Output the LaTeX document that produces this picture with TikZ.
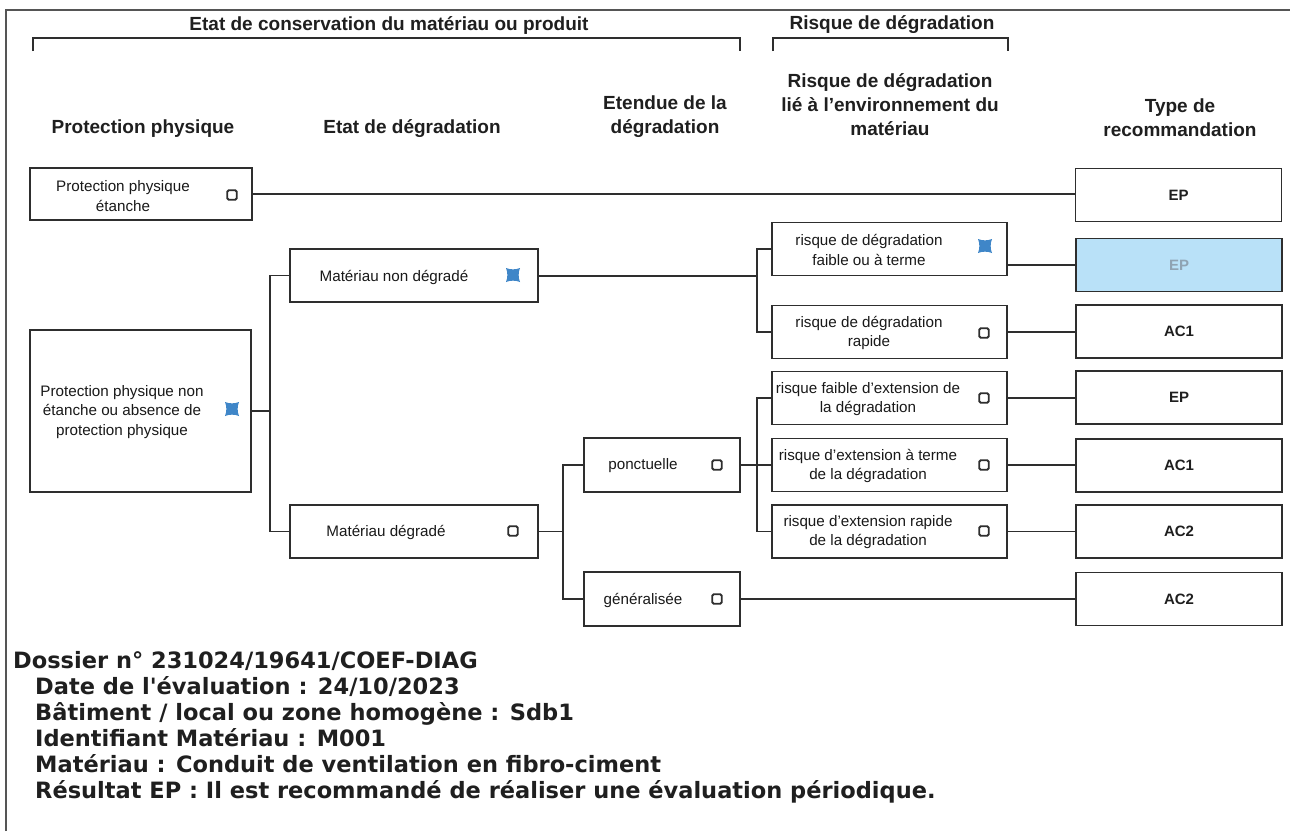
\documentclass[tikz,border=0pt]{standalone}
\usepackage{fontspec}
\setmainfont{Liberation Sans}
\newfontfamily\verd{DejaVu Sans}
\definecolor{ln}{HTML}{2E2E2E}
\definecolor{xblue}{HTML}{3F86C8}
\definecolor{hifill}{HTML}{B9E1F8}
\definecolor{hitext}{HTML}{8FA3B3}
\definecolor{fr}{HTML}{555555}
\tikzset{
  box/.style={draw=ln, line width=1.7pt, rectangle, inner sep=0pt, fill=white},
  bx/.style={box, minimum width=235pt, minimum height=53pt},
  rc/.style={box, minimum width=206pt, minimum height=53pt, font=\fontsize{15}{18}\selectfont\bfseries, text=black!88},
  txt/.style={align=center, inner sep=0pt, font=\fontsize{15.2}{19.5}\selectfont, text=black!90},
  hdr/.style={align=center, inner sep=0pt, font=\fontsize{19}{24}\selectfont\bfseries, text=black!88},
  chk/.style={draw=ln, line width=1.9pt, rounded corners=1.5pt, minimum size=9.5pt, inner sep=0pt},
  conn/.style={draw=ln, line width=1.6pt},
  frame/.style={draw=fr, line width=1.8pt},
  brk/.style={draw=ln, line width=2.2pt},
  foot/.style={anchor=base west, inner sep=0pt, font=\verd\bfseries\fontsize{22.5}{26}\selectfont, text=black!88},
  bluex/.pic={\fill[xblue] (-7,-7) .. controls (-2.5,-5.2) and (2.5,-5.2) .. (7,-7)
      .. controls (5.2,-2.5) and (5.2,2.5) .. (7,7)
      .. controls (2.5,5.2) and (-2.5,5.2) .. (-7,7)
      .. controls (-5.2,2.5) and (-5.2,-2.5) .. (-7,-7) -- cycle;}
}
\begin{document}
\begin{tikzpicture}[x=1pt,y=-1pt]
\useasboundingbox (0,0) rectangle (1290,831);
\fill[white] (0,0) rectangle (1290,831);
% frame
\draw[frame] (6,831) -- (6,10) -- (1290,10);
% brackets
\node[hdr] (b1) at (389,25) {Etat de conservation du matériau ou produit};
\node[hdr] (b2) at (892,25) {Risque de dégradation};
\draw[brk] (33,51) -- (33,38) -- (740,38) -- (740,51);
\draw[brk] (773,51) -- (773,38) -- (1008,38) -- (1008,51);
% headers
\node[hdr] (h1) at (143,129) {Protection physique};
\node[hdr] (h2) at (412,129) {Etat de dégradation};
\node[hdr] (h3) at (665,117) {Etendue de la\\dégradation};
\node[hdr] (h4) at (890,105) {Risque de dégradation\\lié à l'environnement du\\matériau};
\node[hdr] (h5) at (1180,118) {Type de\\recommandation};
% boxes
\node[box, minimum width=222pt, minimum height=52pt] (ppe) at (141,194) {};
\node[box, minimum width=221pt, minimum height=162pt] (ppn) at (140.5,411) {};
\node[box, minimum width=248pt, minimum height=53pt] (mnd) at (414,275.5) {};
\node[box, minimum width=248pt, minimum height=53pt] (md) at (414,531.5) {};
\node[box, minimum width=156pt, minimum height=54pt] (ponc) at (662,465) {};
\node[box, minimum width=156pt, minimum height=54pt] (gen) at (662,599) {};
\node[bx] (rf) at (889.5,249) {};
\node[bx] (rr) at (889.5,332) {};
\node[bx] (rfe) at (889.5,398) {};
\node[bx] (rte) at (889.5,465) {};
\node[bx] (rre) at (889.5,531.5) {};
\node[rc] (ep0) at (1178.5,195) {EP};
\node[rc, fill=hifill, text=hitext] (epb) at (1179,265) {EP};
\node[rc] (ac1a) at (1179,331.5) {AC1};
\node[rc] (ep2) at (1179,397.5) {EP};
\node[rc] (ac1b) at (1179,465.5) {AC1};
\node[rc] (ac2a) at (1179,531.5) {AC2};
\node[rc] (ac2b) at (1179,599) {AC2};
% box texts
\node[txt] (tppe) at (123,196) {Protection physique\\étanche};
\node[txt] (tppn) at (122,412) {Protection physique non\\étanche ou absence de\\protection physique};
\node[txt] (tmnd) at (394,277) {Matériau non dégradé};
\node[txt] (tmd) at (386,532) {Matériau dégradé};
\node[txt] (tponc) at (643,466) {ponctuelle};
\node[txt] (tgen) at (643,600) {généralisée};
\node[txt] (trf) at (869,250) {risque de dégradation\\faible ou à terme};
\node[txt] (trr) at (869,333) {risque de dégradation\\rapide};
\node[txt] (trfe) at (868,399) {risque faible d'extension de\\la dégradation};
\node[txt] (trte) at (868,466) {risque d'extension à terme\\de la dégradation};
\node[txt] (trre) at (868,532) {risque d'extension rapide\\de la dégradation};
% checkboxes
\node[chk] (c1) at (232,195) {};
\node[chk] (c2) at (513,531) {};
\node[chk] (c3) at (717,465) {};
\node[chk] (c4) at (717,599) {};
\node[chk] (c5) at (984,333) {};
\node[chk] (c6) at (984,398) {};
\node[chk] (c7) at (984,465) {};
\node[chk] (c8) at (984,531) {};
\pic at (232,409) {bluex};
\pic at (513,275) {bluex};
\pic at (985,246) {bluex};
% connectors
\draw[conn] (ppe.east) -- (ep0.west |- ppe.east);
\coordinate (j1) at (270,411);
\draw[conn] (ppn.east |- j1) -- (j1);
\draw[conn] (mnd.west) -| (j1) |- (md.west);
\coordinate (j2) at (757,276);
\draw[conn] (mnd.east |- j2) -- (j2);
\draw[conn] (rf.west) -| (j2) |- (rr.west);
\draw[conn] (rf.east |- epb.west) -- (epb.west);
\draw[conn] (rr.east) -- (ac1a.west |- rr.east);
\coordinate (j3) at (563,531.5);
\draw[conn] (md.east) -- (j3);
\draw[conn] (ponc.west) -| (j3) |- (gen.west);
\coordinate (j4) at (757,465);
\draw[conn] (ponc.east) -- (j4);
\draw[conn] (rfe.west) -| (j4) |- (rre.west);
\draw[conn] (j4) -- (rte.west);
\draw[conn] (rfe.east) -- (ep2.west |- rfe.east);
\draw[conn] (rte.east) -- (ac1b.west |- rte.east);
\draw[conn] (rre.east) -- (ac2a.west);
\draw[conn] (gen.east) -- (ac2b.west);
% footer
\node[foot] (f1) at (13,668) {Dossier n° 231024/19641/COEF-DIAG};
\node[foot] (f2) at (35,694) {Date de l'évaluation : 24/10/2023};
\node[foot] (f3) at (35,720) {Bâtiment / local ou zone homogène : Sdb1};
\node[foot] (f4) at (35,746) {Identifiant Matériau : M001};
\node[foot] (f5) at (35,772) {Matériau : Conduit de ventilation en fibro-ciment};
\node[foot] (f6) at (35,798) {Résultat EP : Il est recommandé de réaliser une évaluation périodique.};
\end{tikzpicture}
\end{document}
